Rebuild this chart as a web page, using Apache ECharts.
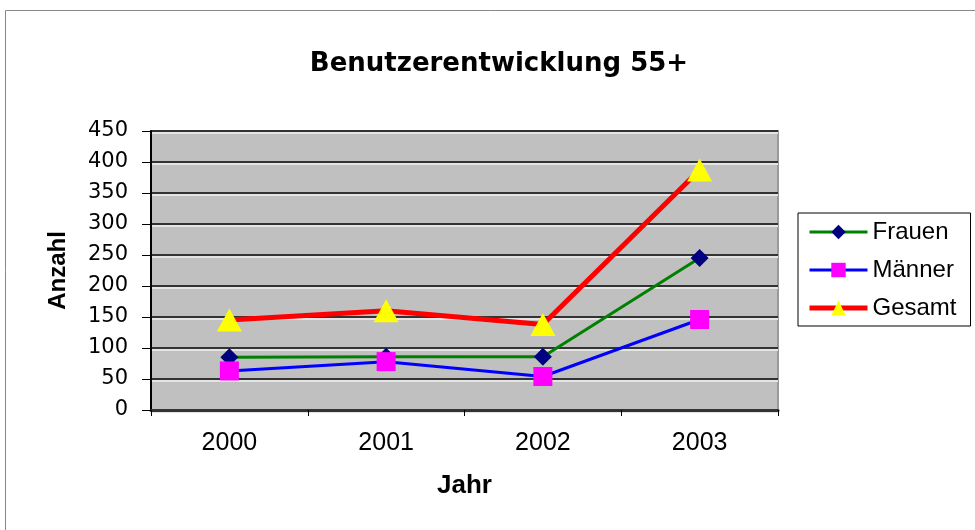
<!DOCTYPE html>
<html><head><meta charset="utf-8">
<script src="https://cdn.jsdelivr.net/npm/echarts@6/dist/echarts.min.js"></script>
<style>html,body{margin:0;padding:0;background:#fff}#c{width:975px;height:530px}</style>
</head><body><div id="c"></div>
<script>
var years = ['2000', '2001', '2002', '2003'];
var frauen = [85, 86, 86, 245];
var maenner = [63, 78, 54, 146];
var gesamt = [145, 160, 138, 387];
var yTicks = [0, 50, 100, 150, 200, 250, 300, 350, 400, 450];

var chart = echarts.init(document.getElementById('c'), null, {renderer: 'canvas'});
var font = '"Liberation Sans", Arial, sans-serif';
var wide = '"DejaVu Sans", Verdana, sans-serif';
chart.setOption({
  animation: false,
  backgroundColor: '#fff',
  graphic: [{
    type: 'polyline', silent: true,
    shape: {points: [[5.5, 530], [5.5, 10.5], [975, 10.5]]},
    style: {stroke: '#888', lineWidth: 1, fill: null}
  }],
  title: {
    text: 'Benutzerentwicklung 55+', left: 494, top: 46, textAlign: 'center',
    textStyle: {fontFamily: wide, fontWeight: 'bold', fontSize: 26, color: '#000'}
  },
  legend: {
    orient: 'vertical', left: 798, top: 213,
    padding: [7, 14, 6, 9], itemGap: 14, itemWidth: 58, itemHeight: 18,
    borderColor: '#000', borderWidth: 1, backgroundColor: '#fff',
    textStyle: {fontFamily: font, fontSize: 24, color: '#000'},
    data: [
      {name: 'Frauen', lineStyle: {width: 3}},
      {name: 'Männer', lineStyle: {width: 3}},
      {name: 'Gesamt', lineStyle: {width: 5}}
    ]
  },
  grid: {
    left: 151, right: 197, top: 131, bottom: 120, show: true,
    backgroundColor: '#c0c0c0', borderColor: '#9a9a9a', borderWidth: 2
  },
  xAxis: {
    type: 'category', data: years, boundaryGap: true,
    name: 'Jahr', nameLocation: 'middle', nameGap: 63,
    nameTextStyle: {fontFamily: font, fontWeight: 'bold', fontSize: 26, color: '#000'},
    axisLine: {lineStyle: {color: '#333', width: 3}},
    axisTick: {show: true, length: 6, lineStyle: {color: '#000', width: 1}},
    axisLabel: {fontFamily: font, fontSize: 25, color: '#000', margin: 21, interval: 0}
  },
  yAxis: {
    type: 'value', min: 0, max: 450, interval: 50,
    name: 'Anzahl', nameLocation: 'middle', nameGap: 81, nameRotate: 90,
    nameTextStyle: {fontFamily: font, fontWeight: 'bold', fontSize: 24, color: '#000'},
    axisLine: {show: true, lineStyle: {color: '#000', width: 2}},
    axisTick: {show: true, length: 9, lineStyle: {color: '#000'}},
    axisLabel: {fontFamily: wide, fontSize: 21, color: '#000', margin: 23,
      formatter: function (v) { return yTicks.indexOf(v) >= 0 ? String(v) : ''; }},
    splitLine: {show: true, lineStyle: {color: '#333', width: 2,
      shadowColor: '#e4e4e4', shadowOffsetY: 2, shadowBlur: 0}}
  },
  series: [
    {name: 'Frauen', type: 'line', data: frauen, symbol: 'diamond', symbolSize: 18,
     itemStyle: {color: '#000080'}, lineStyle: {color: '#008000', width: 3}, z: 3},
    {name: 'Männer', type: 'line', data: maenner, symbol: 'rect', symbolSize: 19,
     itemStyle: {color: '#ff00ff'}, lineStyle: {color: '#0000ff', width: 3}, z: 4},
    {name: 'Gesamt', type: 'line', data: gesamt, symbol: 'triangle', symbolSize: [25, 23],
     itemStyle: {color: '#ffff00'}, lineStyle: {color: '#ff0000', width: 5}, z: 5}
  ]
});
</script></body></html>
